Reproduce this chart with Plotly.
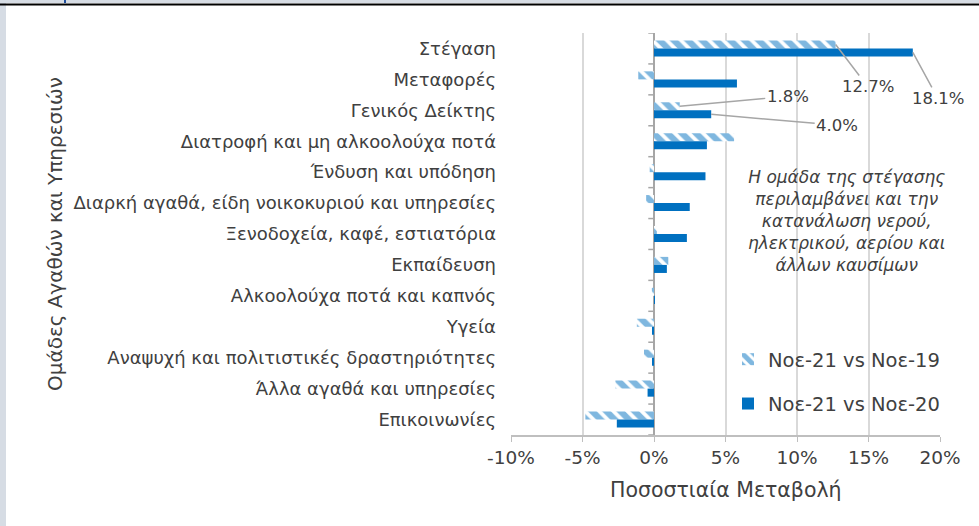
import plotly.graph_objects as go

categories = [
    "Στέγαση",
    "Μεταφορές",
    "Γενικός Δείκτης",
    "Διατροφή και μη αλκοολούχα ποτά",
    "Ένδυση και υπόδηση",
    "Διαρκή αγαθά, είδη νοικοκυριού και υπηρεσίες",
    "Ξενοδοχεία, καφέ, εστιατόρια",
    "Εκπαίδευση",
    "Αλκοολούχα ποτά και καπνός",
    "Υγεία",
    "Αναψυχή και πολιτιστικές δραστηριότητες",
    "Άλλα αγαθά και υπηρεσίες",
    "Επικοινωνίες",
]
vs19 = [12.7, -1.1, 1.8, 5.6, -0.3, -0.55, 0.2, 1.0, -0.15, -1.2, -0.7, -2.7, -4.8]
vs20 = [18.1, 5.8, 4.0, 3.7, 3.6, 2.5, 2.3, 0.9, 0.05, -0.1, -0.1, -0.45, -2.6]
series_names = ["Νοε-21 vs Νοε-19", "Νοε-21 vs Νοε-20"]
x_ticks = [-10, -5, 0, 5, 10, 15, 20]
x_tick_labels = ["-10%", "-5%", "0%", "5%", "10%", "15%", "20%"]

BLUE = "#0070C0"
TXT = "#404040"
FONT = "DejaVu Sans"

L, R, T, B = 511, 39, 33, 91
W, H = 979, 526
PW, PH = W - L - R, H - T - B


def px(xp):
    return (xp - L) / PW


def py(yp):
    return (H - B - yp) / PH


fig = go.Figure()
fig.add_trace(go.Bar(
    y=categories, x=vs19, orientation="h", name=series_names[0],
    legendgroup="a",
    marker=dict(color="white", line=dict(width=0),
                pattern=dict(shape="\\", fgcolor=BLUE, bgcolor="white",
                             size=10, solidity=0.62, fillmode="overlay")),
))
fig.add_trace(go.Bar(
    y=categories, x=vs20, orientation="h", name=series_names[1],
    legendgroup="b",
    marker=dict(color=BLUE, line=dict(width=0)),
))

# tick marks on the zero line at category boundaries
shapes = []
for i in range(len(categories) + 1):
    shapes.append(dict(type="line", xref="x", yref="y", x0=-0.4, x1=0,
                       y0=i - 0.5, y1=i - 0.5,
                       line=dict(color="#a6a6a6", width=1.5)))
# page decoration
shapes += [
    dict(type="rect", xref="paper", yref="paper", x0=px(-5), x1=px(W + 5),
         y0=py(3), y1=py(-5), fillcolor="#d6dce4", line=dict(width=0), layer="below"),
    dict(type="rect", xref="paper", yref="paper", x0=px(-5), x1=px(6),
         y0=py(H + 5), y1=py(3), fillcolor="#d6dce4", line=dict(width=0), layer="below"),
    dict(type="line", xref="paper", yref="paper", x0=px(-5), x1=px(W + 5),
         y0=py(4.5), y1=py(4.5), line=dict(color="black", width=2)),
    dict(type="line", xref="paper", yref="paper", x0=px(65), x1=px(65),
         y0=py(0), y1=py(3), line=dict(color="#1f4e9c", width=2)),
]
fig.update_layout(shapes=shapes)


# leader-line labels
def lab(val, idx, off, ax, ay):
    return dict(x=val, y=idx + off, xref="x", yref="y", text=f"{val:.1f}%",
                showarrow=True, arrowhead=0, arrowwidth=1.5, arrowcolor="#a6a6a6",
                ax=ax, ay=ay, font=dict(family=FONT, size=16.5, color=TXT))


annotations = [
    lab(vs19[0], 0, -0.13, 32, 42),
    lab(vs20[0], 0, 0.13, 25, 46),
    lab(vs19[2], 2, -0.13, 108, -10),
    lab(vs20[2], 2, 0.13, 126, 11),
]
annotations.append(dict(
    xref="paper", yref="paper", x=px(846), y=py(221),
    text="Η ομάδα της στέγασης<br>περιλαμβάνει και την<br>κατανάλωση νερού,<br>ηλεκτρικού, αερίου και<br>άλλων καυσίμων",
    showarrow=False, align="center", xanchor="center", yanchor="middle",
    font=dict(family=FONT, size=17, color=TXT, style="italic")))
annotations.append(dict(
    xref="paper", yref="paper", x=px(55), y=0.5, textangle=-90,
    text="Ομάδες Αγαθών και Υπηρεσιών", showarrow=False,
    xanchor="center", yanchor="middle",
    font=dict(family=FONT, size=20, color=TXT)))
annotations.append(dict(
    xref="paper", yref="paper", x=0.5, y=py(490),
    text="Ποσοστιαία Μεταβολή", showarrow=False,
    xanchor="center", yanchor="middle",
    font=dict(family=FONT, size=20.5, color=TXT)))

fig.update_layout(
    width=W, height=H,
    margin=dict(l=L, r=R, t=T, b=B, autoexpand=False),
    paper_bgcolor="white", plot_bgcolor="white",
    barmode="group", bargap=0.48, bargroupgap=0,
    font=dict(family=FONT, color=TXT),
    annotations=annotations,
    legend=dict(x=px(728), y=py(340), xanchor="left", yanchor="top",
                font=dict(family=FONT, size=19.5, color=TXT),
                traceorder="grouped", tracegroupgap=16, bgcolor="rgba(0,0,0,0)"),
    xaxis=dict(range=[-10, 20], tickvals=x_ticks, ticktext=x_tick_labels,
               automargin=False,
               showgrid=True, gridcolor="#d9d9d9", gridwidth=1.5,
               zeroline=True, zerolinecolor="#a6a6a6", zerolinewidth=1.5,
               showline=True, linecolor="#bfbfbf", linewidth=1.5,
               ticks="outside", ticklen=5, tickcolor="#bfbfbf",
               tickfont=dict(family=FONT, size=18.5, color=TXT)),
    yaxis=dict(range=[len(categories) - 0.5, -0.5], showgrid=False,
               automargin=False,
               showline=False, ticks="", ticklabelstandoff=14,
               tickfont=dict(family=FONT, size=18, color=TXT)),
)

fig.write_html(
    "out.html",
    config={"displayModeBar": False},
    post_script="document.body.style.margin='0px';document.body.style.overflow='hidden';",
)
